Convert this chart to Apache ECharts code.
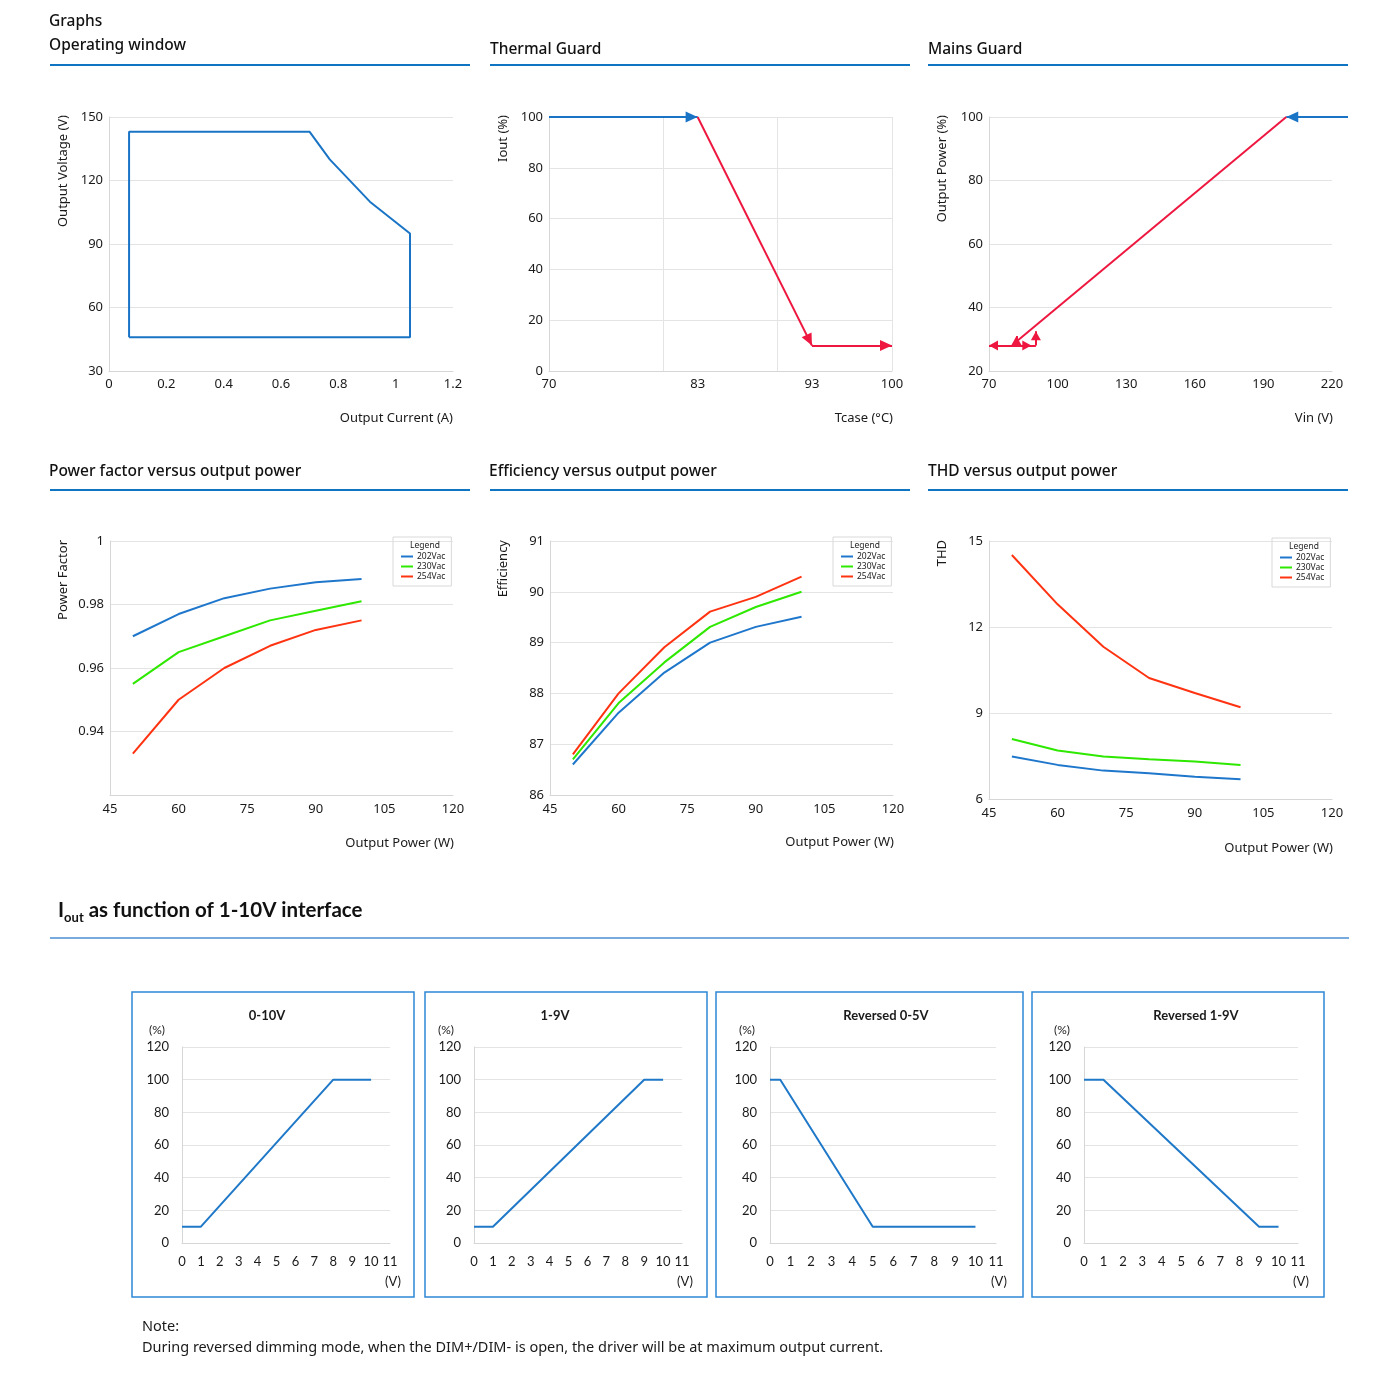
<!DOCTYPE html>
<html><head><meta charset="utf-8">
<script src="https://cdn.jsdelivr.net/npm/echarts@6/dist/echarts.min.js"></script>
<style>html,body{margin:0;padding:0;background:#fff}#c{width:1400px;height:1377px}</style>
</head><body><div id="c"></div>
<script>
// ---------- DATA ----------
// Operating window (polygon outline)
const opCurrent = [0.07, 0.07, 0.70, 0.77, 0.91, 1.05, 1.05, 0.07];
const opVoltage = [46, 143, 143, 130, 110, 95, 46, 46];
// Thermal guard segments [[x1,y1],[x2,y2]]
const thermalBlue = [[[70, 100], [83, 100]]];
const thermalRed = [[[83, 100], [93, 10]], [[93, 10], [100, 10]]];
const thermalXLabels = [70, 83, 93, 100];
// Mains guard segments
const mainsBlue = [[[227, 100], [200, 100]]];
const mainsRedPlain = [[[200, 100], [81.5, 29]]];
const mainsRedArrows = [
  [[90.5, 28], [70, 28]],
  [[80, 28], [88.5, 28]],
  [[90.5, 28], [90.5, 32.5]],
  [[82, 28], [82, 31]]
];
const mainsXLabels = [70, 100, 130, 160, 190, 220];
// Output power (W)
const powerW = [50, 60, 70, 80, 90, 100];
const seriesNames = ['202Vac', '230Vac', '254Vac'];
const pf202 = [0.970, 0.977, 0.982, 0.985, 0.987, 0.988];
const pf230 = [0.955, 0.965, 0.970, 0.975, 0.978, 0.981];
const pf254 = [0.933, 0.950, 0.960, 0.967, 0.972, 0.975];
const eff202 = [86.60, 87.62, 88.41, 89.00, 89.31, 89.51];
const eff230 = [86.70, 87.81, 88.61, 89.31, 89.70, 90.00];
const eff254 = [86.80, 88.00, 88.91, 89.61, 89.90, 90.30];
const thd202 = [7.48, 7.19, 6.99, 6.90, 6.78, 6.69];
const thd230 = [8.09, 7.69, 7.48, 7.39, 7.31, 7.19];
const thd254 = [14.51, 12.79, 11.31, 10.22, 9.70, 9.20];
// 1-10V interface
const panelTitles = ['0-10V', '1-9V', 'Reversed 0-5V', 'Reversed 1-9V'];
const dimV = [[0, 1, 8, 10], [0, 1, 9, 10], [0, 0.5, 5, 10], [0, 1, 9, 10]];
const dimP = [[10, 10, 100, 100], [10, 10, 100, 100], [100, 100, 10, 10], [100, 100, 10, 10]];

// ---------- STYLE ----------
const FONT = 'Noto Sans';
const TXT = '#1a1a1a';
const GRIDC = '#e4e4e4';
const AXC = '#d6d6d6';
const BLUE = '#1a74c6';
const RED = '#ee1740';
const C3 = ['#1f77cc', '#2ee800', '#ff3311'];
// arrow head with its tip at the symbol centre
const ARROW = 'path://M5 10 L10 20 L0 20 Z M5 0';

const grids = [
  {left: 109, top: 117, width: 344, height: 254},
  {left: 549, top: 117, width: 343, height: 254},
  {left: 989, top: 117, width: 343, height: 254},
  {left: 110, top: 541, width: 343, height: 254},
  {left: 550, top: 541, width: 343, height: 254},
  {left: 989, top: 541, width: 343, height: 258},
  {left: 182, top: 1047, width: 208, height: 196},
  {left: 474, top: 1047, width: 208, height: 196},
  {left: 770, top: 1047, width: 226, height: 196},
  {left: 1084, top: 1047, width: 214, height: 196}
];

function lbl(extra) {
  return Object.assign({color: TXT, fontFamily: FONT, fontSize: 13}, extra || {});
}
const xAxes = [], yAxes = [];
function addAxes(g, xo, yo) {
  xAxes.push(Object.assign({
    type: 'value', gridIndex: g,
    axisLine: {show: true, lineStyle: {color: AXC}},
    axisTick: {show: false},
    splitLine: {show: false},
    axisLabel: lbl({margin: 7})
  }, xo));
  yAxes.push(Object.assign({
    type: 'value', gridIndex: g,
    axisLine: {show: true, lineStyle: {color: AXC}},
    axisTick: {show: false},
    splitLine: {show: true, lineStyle: {color: GRIDC}},
    axisLabel: lbl({margin: 6})
  }, yo));
}
addAxes(0, {min: 0, max: 1.2, interval: 0.2}, {min: 30, max: 150, interval: 30});
addAxes(1, {min: 70, max: 100, interval: 10, splitLine: {show: true, lineStyle: {color: GRIDC}},
  axisLabel: lbl({margin: 7, customValues: thermalXLabels})}, {min: 0, max: 100, interval: 20});
addAxes(2, {min: 70, max: 220, axisLabel: lbl({margin: 7, customValues: mainsXLabels})},
  {min: 20, max: 100, interval: 20});
addAxes(3, {min: 45, max: 120, interval: 15, axisLabel: lbl({margin: 8})},
  {min: 0.92, max: 1, interval: 0.02, axisLabel: lbl({margin: 6, showMinLabel: false})});
addAxes(4, {min: 45, max: 120, interval: 15, axisLabel: lbl({margin: 8})}, {min: 86, max: 91, interval: 1});
addAxes(5, {min: 45, max: 120, interval: 15, axisLabel: lbl({margin: 8})}, {min: 6, max: 15, interval: 3});
for (let i = 0; i < 4; i++) {
  addAxes(6 + i,
    {min: 0, max: 11, interval: 1, axisLabel: {color: TXT, fontFamily: 'Lato', fontSize: 13, margin: 12}},
    {min: 0, max: 120, interval: 20, axisLabel: {color: TXT, fontFamily: 'Lato', fontSize: 13, margin: 13}});
}

const series = [];
series.push({type: 'line', xAxisIndex: 0, yAxisIndex: 0, showSymbol: false, silent: true,
  data: opCurrent.map((x, i) => [x, opVoltage[i]]),
  lineStyle: {color: BLUE, width: 2}, itemStyle: {color: BLUE}});
function segs(arr) { return arr.map(s => ({coords: s})); }
function linesS(ax, data, color, arrow, size) {
  return {type: 'lines', coordinateSystem: 'cartesian2d', xAxisIndex: ax, yAxisIndex: ax,
    clip: false, silent: true, z: 3,
    symbol: arrow ? ['none', ARROW] : ['none', 'none'], symbolSize: [size || [11, 24], size || [11, 24]],
    lineStyle: {color: color, width: 2, opacity: 1},
    data: segs(data)};
}
series.push(linesS(1, thermalBlue, BLUE, true));
series.push(linesS(1, thermalRed, RED, true));
series.push(linesS(2, mainsBlue, BLUE, true));
series.push(linesS(2, mainsRedPlain, RED, false));
series.push(linesS(2, mainsRedArrows, RED, true, [10, 18]));

const groups = [[pf202, pf230, pf254], [eff202, eff230, eff254], [thd202, thd230, thd254]];
groups.forEach((grp, gi) => {
  grp.forEach((vals, si) => {
    series.push({type: 'line', name: seriesNames[si], xAxisIndex: 3 + gi, yAxisIndex: 3 + gi,
      showSymbol: false, silent: true, color: C3[si],
      data: powerW.map((x, i) => [x, vals[i]]),
      lineStyle: {color: C3[si], width: 2}, itemStyle: {color: C3[si]}});
  });
});
for (let i = 0; i < 4; i++) {
  series.push({type: 'line', xAxisIndex: 6 + i, yAxisIndex: 6 + i, showSymbol: false, silent: true,
    data: dimV[i].map((x, k) => [x, dimP[i][k]]),
    lineStyle: {color: '#1f78c8', width: 2}, itemStyle: {color: '#1f78c8'}});
}

const legendPos = [{left: 393, top: 537}, {left: 833, top: 537}, {left: 1272, top: 538}];
const legends = legendPos.map(p => ({
  left: p.left, top: p.top, orient: 'vertical', data: seriesNames,
  icon: 'rect', itemWidth: 12, itemHeight: 2, itemGap: 1,
  padding: [15, 6, 5, 8], borderColor: '#d9d9d9', borderWidth: 1,
  selectedMode: false,
  textStyle: {fontSize: 8.5, fontFamily: FONT, color: TXT, padding: [0, 0, 0, -1]}
}));

// ---------- TEXT / DECORATION ----------
const G = [];
function t(text, x, y, o) {
  G.push(Object.assign({type: 'text', x: x, y: y, silent: true, z: 200,
    style: Object.assign({text: text, fill: TXT, font: '13px "' + FONT + '"', align: 'left', verticalAlign: 'middle'}, (o && o.style) || {})},
    o && o.rotation ? {rotation: o.rotation} : {}));
}
function vt(text, x, y) { t(text, x, y, {rotation: Math.PI / 2, style: {align: 'right'}}); }
function rule(x1, x2, y, color, w) {
  G.push({type: 'line', silent: true, shape: {x1: x1, y1: y, x2: x2, y2: y}, style: {stroke: color, lineWidth: w}});
}
const H = {style: {font: '500 15.5px "' + FONT + '"', fill: '#111'}};
t('Graphs', 49, 22, H);
t('Operating window', 49, 46, H);
t('Thermal Guard', 490, 50, H);
t('Mains Guard', 928, 50, H);
t('Power factor versus output power', 49, 472, H);
t('Efficiency versus output power', 489, 472, H);
t('THD versus output power', 928, 472, H);
[[50, 470], [490, 910], [928, 1348]].forEach(r => { rule(r[0], r[1], 65, '#0f75c3', 2); rule(r[0], r[1], 490, '#0f75c3', 2); });
rule(50, 1349, 938, '#4a8fd2', 1.5);

vt('Output Voltage (V)', 63, 115);
vt('Iout (%)', 503, 115);
vt('Output Power (%)', 942, 115);
vt('Power Factor', 63, 540);
vt('Efficiency', 503, 540);
vt('THD', 942, 540);
const R = {style: {align: 'right'}};
t('Output Current (A)', 453, 418, R);
t('Tcase (°C)', 893, 418, R);
t('Vin (V)', 1333, 418, R);
t('Output Power (W)', 454, 843, R);
t('Output Power (W)', 894, 842, R);
t('Output Power (W)', 1333, 848, R);
legendPos.forEach(p => t('Legend', p.left + 32, p.top + 8.5, {style: {align: 'center', font: '8.5px "' + FONT + '"'}}));

G.push({type: 'text', x: 58, y: 910, silent: true, style: {
  text: '{a|I}{s|out}{a| as function of 1-10V interface}', fill: '#111', verticalAlign: 'middle',
  rich: {
    a: {fontFamily: 'Lato', fontWeight: 'bold', fontSize: 20.5, lineHeight: 28, verticalAlign: 'middle', fill: '#111'},
    s: {fontFamily: 'Lato', fontWeight: 'bold', fontSize: 13, lineHeight: 28, verticalAlign: 'bottom', fill: '#111'}
  }}});

const panels = [[132, 282], [425, 282], [716, 307], [1032, 292]];
const panelTitleX = [267, 555, 886, 1196];
const pctX = [149, 438, 739, 1054];
panels.forEach((p, i) => {
  G.push({type: 'rect', silent: true, shape: {x: p[0], y: 992, width: p[1], height: 305},
    style: {fill: 'none', stroke: '#2d88d5', lineWidth: 1.5}});
  const gr = grids[6 + i];
  t(panelTitles[i], panelTitleX[i], 1016, {style: {align: 'center', font: 'bold 13px Lato'}});
  t('(%)', pctX[i], 1030, {style: {align: 'left', font: '12px Lato'}});
  t('(V)', gr.left + gr.width + 3, 1282, {style: {align: 'center', font: '13px Lato'}});
});
t('Note:', 142, 1327, {style: {font: '14.5px "' + FONT + '"'}});
t('During reversed dimming mode, when the DIM+/DIM- is open, the driver will be at maximum output current.', 142, 1348,
  {style: {font: '14.5px "' + FONT + '"'}});

const chart = echarts.init(document.getElementById('c'), null, {renderer: 'canvas'});
chart.setOption({
  backgroundColor: '#fff',
  animation: false,
  grid: grids,
  xAxis: xAxes,
  yAxis: yAxes,
  legend: legends,
  series: series,
  graphic: {elements: G}
});
</script></body></html>
